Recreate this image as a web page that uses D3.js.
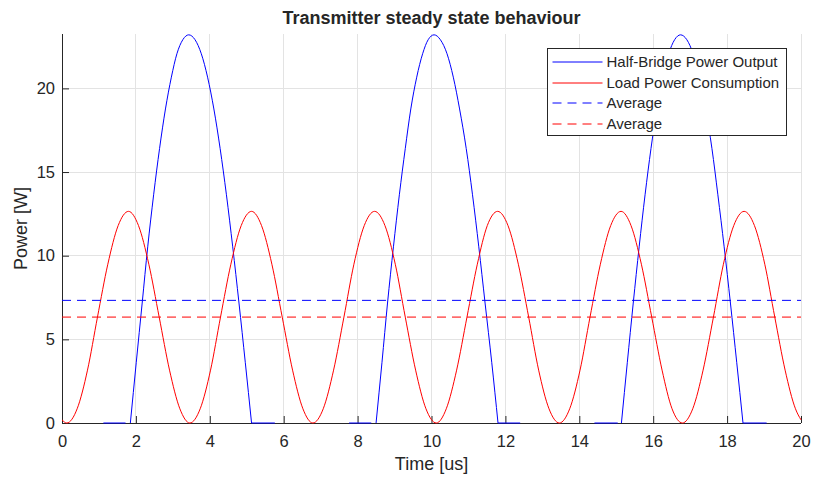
<!DOCTYPE html>
<html>
<head>
<meta charset="utf-8">
<script src="https://cdn.jsdelivr.net/npm/d3@7"></script>
<style>
  body { margin: 0; background: #fff; }
  svg { display: block; }
  text { font-family: "Liberation Sans", Arial, Helvetica, sans-serif; fill: #262626; }
</style>
</head>
<body>
<svg id="chart" width="813" height="479"></svg>
<script>
// ---- data -----------------------------------------------------------
const xTicks = [0, 2, 4, 6, 8, 10, 12, 14, 16, 18, 20];
const yTicks = [0, 5, 10, 15, 20];

// Load power consumption [W] over time [us]
const redTime = [0.00,
  0.13, 0.41, 0.69, 0.96, 1.24, 1.52, 1.80, 2.07, 2.35, 2.63, 2.91, 3.19,
  3.46, 3.74, 4.02, 4.29, 4.57, 4.85, 5.13, 5.40, 5.68, 5.96, 6.24, 6.52,
  6.79, 7.07, 7.35, 7.63, 7.90, 8.18, 8.46, 8.74, 9.02, 9.29, 9.57, 9.85,
  10.13, 10.40, 10.68, 10.96, 11.24, 11.51, 11.79, 12.07, 12.35, 12.63, 12.90, 13.18,
  13.46, 13.74, 14.02, 14.29, 14.57, 14.85, 15.13, 15.40, 15.68, 15.96, 16.24, 16.51,
  16.79, 17.07, 17.35, 17.63, 17.90, 18.18, 18.46, 18.74, 19.02, 19.29, 19.57, 19.85,
  20.00];
const redPower = [0.19,
  0, 0.85, 3.16, 6.33, 9.49, 11.80, 12.65, 11.80, 9.49, 6.33, 3.16, 0.85,
  0, 0.85, 3.16, 6.33, 9.49, 11.80, 12.65, 11.80, 9.49, 6.33, 3.16, 0.85,
  0, 0.85, 3.16, 6.33, 9.49, 11.80, 12.65, 11.80, 9.49, 6.33, 3.16, 0.85,
  0, 0.85, 3.16, 6.33, 9.49, 11.80, 12.65, 11.80, 9.49, 6.33, 3.16, 0.85,
  0, 0.85, 3.16, 6.33, 9.49, 11.80, 12.65, 11.80, 9.49, 6.33, 3.16, 0.85,
  0, 0.85, 3.16, 6.33, 9.49, 11.80, 12.65, 11.80, 9.49, 6.33, 3.16, 0.85,
  0.19];

// Half-bridge power output [W]; null marks stretches below the axis (not shown)
const blueTime = [
  1.12, 1.72, null,
  1.85, 2.01, 2.17, 2.32, 2.48, 2.64, 2.80, 2.96, 3.11, 3.27, 3.43,
  3.60, 3.77, 3.94, 4.11, 4.28, 4.45, 4.62, 4.79, 4.96, 5.13, null,
  5.13, 5.76, null,
  7.77, 8.37, null,
  8.50, 8.66, 8.81, 8.97, 9.13, 9.29, 9.44, 9.60, 9.76, 9.91, 10.07,
  10.24, 10.42, 10.59, 10.76, 10.94, 11.11, 11.28, 11.45, 11.63, 11.80, null,
  11.80, 12.40, null,
  14.41, 15.04, null,
  15.14, 15.30, 15.46, 15.62, 15.78, 15.94, 16.10, 16.26, 16.42, 16.58, 16.74,
  16.91, 17.08, 17.25, 17.42, 17.59, 17.75, 17.92, 18.09, 18.26, 18.43, null,
  18.43, 19.07];
const bluePower = [
  0, 0, null,
  0, 3.63, 7.17, 10.53, 13.64, 16.40, 18.77, 20.67, 22.07, 22.91, 23.20,
  22.91, 22.07, 20.67, 18.77, 16.40, 13.64, 10.53, 7.17, 3.63, 0, null,
  0, 0, null,
  0, 0, null,
  0, 3.63, 7.17, 10.53, 13.64, 16.40, 18.77, 20.67, 22.07, 22.91, 23.20,
  22.91, 22.07, 20.67, 18.77, 16.40, 13.64, 10.53, 7.17, 3.63, 0, null,
  0, 0, null,
  0, 0, null,
  0, 3.63, 7.17, 10.53, 13.64, 16.40, 18.77, 20.67, 22.07, 22.91, 23.20,
  22.91, 22.07, 20.67, 18.77, 16.40, 13.64, 10.53, 7.17, 3.63, 0, null,
  0, 0];

const blueAverage = 7.33;
const redAverage = 6.33;

const legendLabels = ["Half-Bridge Power Output", "Load Power Consumption", "Average", "Average"];
const seriesColors = ["#0000ff", "#ff0000", "#0000ff", "#ff0000"];
const seriesDashed = [false, false, true, true];

// ---- layout ---------------------------------------------------------
const svg = d3.select("#chart");
const plotLeft = 62, plotRight = 801, plotTop = 34, plotBottom = 423;
const xMax = 20, yMax = 23.25;

const x = d3.scaleLinear().domain([0, xMax]).range([plotLeft, plotRight]);
const y = d3.scaleLinear().domain([0, yMax]).range([plotBottom, plotTop]);

const axisColor = "#262626";
const gridColor = "#e3e3e3";
const fontFamily = '"Liberation Sans", Arial, Helvetica, sans-serif';

svg.append("defs").append("clipPath").attr("id", "plot-clip")
  .append("rect").attr("x", plotLeft - 1).attr("y", plotTop - 1)
  .attr("width", plotRight - plotLeft + 2).attr("height", plotBottom - plotTop + 2);

// grid
const grid = svg.append("g");
grid.selectAll("line.gx").data(xTicks.filter(t => t > 0)).join("line")
  .attr("x1", d => x(d)).attr("x2", d => x(d))
  .attr("y1", plotTop).attr("y2", plotBottom)
  .attr("stroke", gridColor).attr("stroke-width", 1)
  .attr("shape-rendering", "crispEdges");
grid.selectAll("line.gy").data(yTicks.filter(t => t > 0)).join("line")
  .attr("x1", plotLeft).attr("x2", plotRight)
  .attr("y1", d => y(d)).attr("y2", d => y(d))
  .attr("stroke", gridColor).attr("stroke-width", 1)
  .attr("shape-rendering", "crispEdges");

// axes (ticks point inward)
const tickLen = 7;
const xAxis = svg.append("g").attr("transform", `translate(0,${plotBottom})`)
  .call(d3.axisBottom(x).tickValues(xTicks).tickSizeInner(-tickLen).tickSizeOuter(0).tickPadding(12));
const yAxis = svg.append("g").attr("transform", `translate(${plotLeft},0)`)
  .call(d3.axisLeft(y).tickValues(yTicks).tickSizeInner(-tickLen).tickSizeOuter(0).tickPadding(7));
[xAxis, yAxis].forEach(g => {
  g.select(".domain").attr("stroke", axisColor).attr("stroke-width", 1);
  g.selectAll(".tick line").attr("stroke", axisColor);
  g.selectAll(".tick text").attr("fill", axisColor)
    .style("font-size", "16.5px").style("font-family", fontFamily);
});
yAxis.select(".domain").attr("d", `M0.5,${plotBottom}V${plotTop}`);
xAxis.select(".domain").attr("d", `M${plotLeft},0.5H${plotRight}`);

// series
const plot = svg.append("g").attr("clip-path", "url(#plot-clip)");

const blueData = blueTime.map((t, i) => ({ t, p: bluePower[i] }));
const redData = redTime.map((t, i) => ({ t, p: redPower[i] }));

const line = d3.line()
  .defined(d => d.t != null && d.p != null)
  .x(d => x(d.t)).y(d => y(d.p))
  .curve(d3.curveMonotoneX);

plot.append("path").datum(blueData)
  .attr("d", line).attr("fill", "none")
  .attr("stroke", seriesColors[0]).attr("stroke-width", 1);
plot.append("path").datum(redData)
  .attr("d", line).attr("fill", "none")
  .attr("stroke", seriesColors[1]).attr("stroke-width", 1);

const dash = "9,6";
plot.append("line")
  .attr("x1", x(0)).attr("x2", x(xMax))
  .attr("y1", y(blueAverage)).attr("y2", y(blueAverage))
  .attr("stroke", seriesColors[2]).attr("stroke-width", 1).attr("stroke-dasharray", dash);
plot.append("line")
  .attr("x1", x(0)).attr("x2", x(xMax))
  .attr("y1", y(redAverage)).attr("y2", y(redAverage))
  .attr("stroke", seriesColors[3]).attr("stroke-width", 1).attr("stroke-dasharray", dash);

// labels
svg.append("text").attr("x", (plotLeft + plotRight) / 2).attr("y", 24)
  .attr("text-anchor", "middle").style("font-size", "18px").style("font-weight", "bold")
  .attr("fill", "#000").text("Transmitter steady state behaviour");
svg.append("text").attr("x", (plotLeft + plotRight) / 2).attr("y", 470)
  .attr("text-anchor", "middle").style("font-size", "18px")
  .text("Time [us]");
svg.append("text")
  .attr("transform", `translate(27,${(plotTop + plotBottom) / 2}) rotate(-90)`)
  .attr("text-anchor", "middle").style("font-size", "18px")
  .text("Power [W]");

// legend
const lg = svg.append("g").attr("transform", "translate(547.5,48.5)");
lg.append("rect").attr("width", 239).attr("height", 87)
  .attr("fill", "#fff").attr("stroke", axisColor).attr("stroke-width", 1);
legendLabels.forEach((label, i) => {
  const cy = Math.round(13 + i * 20.5) + 0.5;
  lg.append("line").attr("x1", 5).attr("x2", 55).attr("y1", cy).attr("y2", cy)
    .attr("stroke", seriesColors[i]).attr("stroke-width", 1)
    .attr("stroke-dasharray", seriesDashed[i] ? dash : null);
  lg.append("text").attr("x", 59).attr("y", cy).attr("dy", "0.35em")
    .style("font-size", "15px").attr("fill", "#000").text(label);
});
</script>
</body>
</html>
